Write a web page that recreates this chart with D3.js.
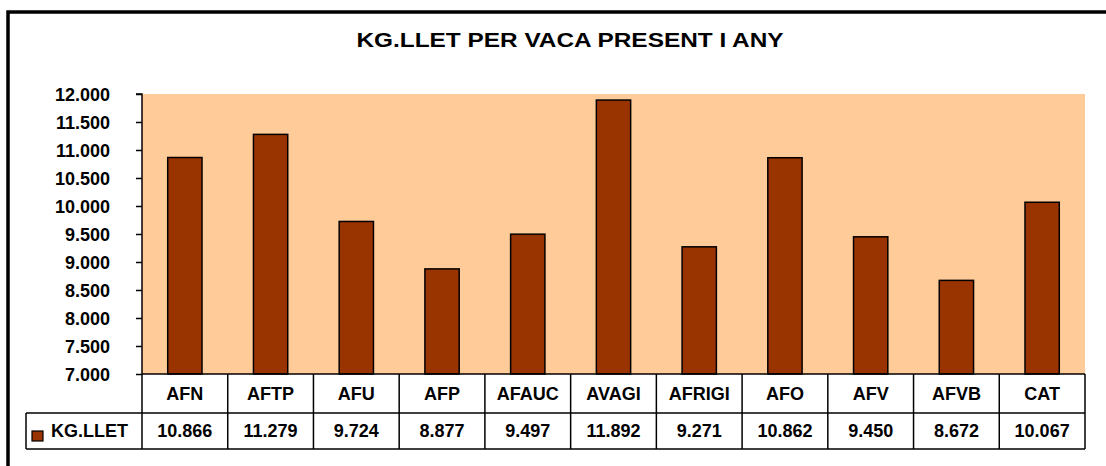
<!DOCTYPE html>
<html>
<head>
<meta charset="utf-8">
<script src="https://cdn.jsdelivr.net/npm/d3@7"></script>
<style>
  body { margin: 0; background: #fff; }
  svg text { font-family: "Liberation Sans", Arial, sans-serif; font-weight: bold; fill: #000; }
</style>
</head>
<body>
<svg id="chart" width="1106" height="466"></svg>
<script>
// Data
const categories = ['AFN', 'AFTP', 'AFU', 'AFP', 'AFAUC', 'AVAGI', 'AFRIGI', 'AFO', 'AFV', 'AFVB', 'CAT'];
const values = [10866, 11279, 9724, 8877, 9497, 11892, 9271, 10862, 9450, 8672, 10067];
const tickValues = [7000, 7500, 8000, 8500, 9000, 9500, 10000, 10500, 11000, 11500, 12000];
const seriesName = 'KG.LLET';
const title = 'KG.LLET PER VACA PRESENT I ANY';

const plot = { left: 142, right: 1085, top: 94, bottom: 374 };
const rowH = { header: 39, data: 36 };
const legendLeft = 26;

const fmt = d3.formatLocale({ decimal: ',', thousands: '.', grouping: [3], currency: ['', ''] }).format(',.0f');

const svg = d3.select('#chart');

// outer frame (only top and left edges visible)
svg.append('path')
  .attr('d', 'M8,470 V12 H1110')
  .attr('fill', 'none')
  .attr('stroke', '#000')
  .attr('stroke-width', 3.5);

svg.append('text')
  .attr('x', 570)
  .attr('y', 47)
  .attr('text-anchor', 'middle')
  .attr('textLength', 427)
  .attr('lengthAdjust', 'spacingAndGlyphs')
  .style('font-size', '20px')
  .text(title);

const x = d3.scaleBand().domain(categories).range([plot.left, plot.right]).padding(0);
const y = d3.scaleLinear().domain([7000, 12000]).range([plot.bottom, plot.top]);

// plot background
svg.append('rect')
  .attr('x', plot.left)
  .attr('y', plot.top)
  .attr('width', plot.right - plot.left)
  .attr('height', plot.bottom - plot.top)
  .attr('fill', '#FFCC99');

// bars
const barW = x.bandwidth() * 0.4;
svg.selectAll('.bar')
  .data(values)
  .enter().append('rect')
  .attr('class', 'bar')
  .attr('x', (d, i) => x(categories[i]) + (x.bandwidth() - barW) / 2)
  .attr('y', d => y(d))
  .attr('width', barW)
  .attr('height', d => y(7000) - y(d))
  .attr('fill', '#993300')
  .attr('stroke', '#000')
  .attr('stroke-width', 1.5);

// y axis
const yAxis = svg.append('g')
  .attr('transform', `translate(${plot.left},0)`)
  .call(d3.axisLeft(y).tickValues(tickValues).tickFormat(fmt).tickSize(6).tickPadding(26));
yAxis.select('.domain').attr('stroke', '#000').attr('stroke-width', 1.5).attr('d', `M-6,${plot.top}H0V${plot.bottom}`);
yAxis.selectAll('.tick line').attr('stroke', '#000').attr('stroke-width', 1.5);
yAxis.selectAll('.tick text').style('font-size', '18px').attr('dy', '0.36em');

// data table below the plot
const tbl = svg.append('g');
const yHead = plot.bottom;
const yData = plot.bottom + rowH.header;
const yEnd = yData + rowH.data;

tbl.selectAll('.cat')
  .data(categories)
  .enter().append('text')
  .attr('x', d => x(d) + x.bandwidth() / 2)
  .attr('y', yHead + rowH.header / 2)
  .attr('dy', '0.36em')
  .attr('text-anchor', 'middle')
  .style('font-size', '18px')
  .text(d => d);

tbl.selectAll('.val')
  .data(values)
  .enter().append('text')
  .attr('x', (d, i) => x(categories[i]) + x.bandwidth() / 2)
  .attr('y', yData + rowH.data / 2)
  .attr('dy', '0.36em')
  .attr('text-anchor', 'middle')
  .style('font-size', '18px')
  .text(d => fmt(d));

// legend cell
tbl.append('rect')
  .attr('x', 32).attr('y', 431).attr('width', 11).attr('height', 10)
  .attr('fill', '#993300').attr('stroke', '#000').attr('stroke-width', 1.2);
tbl.append('text')
  .attr('x', 51)
  .attr('y', yData + rowH.data / 2)
  .attr('dy', '0.36em')
  .style('font-size', '18px')
  .text(seriesName);

// table grid lines
const lines = [
  [plot.left, yHead, plot.right, yHead],
  [legendLeft, yData, plot.right, yData],
  [legendLeft, yEnd, plot.right, yEnd],
  [legendLeft, yData, legendLeft, yEnd]
];
categories.forEach(c => lines.push([x(c), yHead, x(c), yEnd]));
lines.push([plot.right, yHead, plot.right, yEnd]);

tbl.selectAll('.grid')
  .data(lines)
  .enter().append('line')
  .attr('x1', d => d[0]).attr('y1', d => d[1])
  .attr('x2', d => d[2]).attr('y2', d => d[3])
  .attr('stroke', '#000')
  .attr('stroke-width', 1.5);
</script>
</body>
</html>
